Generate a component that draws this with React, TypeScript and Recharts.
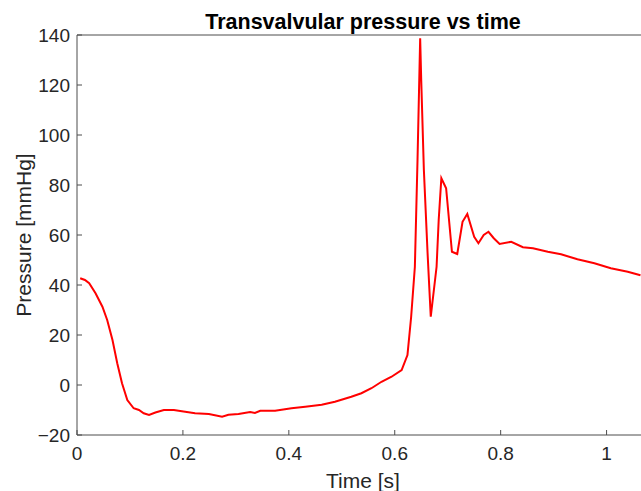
import { LineChart, Line, XAxis, YAxis, ReferenceLine } from "recharts";

const times = [
  0.006, 0.015, 0.023, 0.035, 0.048, 0.057, 0.067, 0.076, 0.085, 0.095, 0.107, 0.117, 0.126, 0.136,
  0.148, 0.164, 0.183, 0.198, 0.223, 0.249, 0.274, 0.286, 0.305, 0.327, 0.336, 0.346, 0.374, 0.405,
  0.431, 0.462, 0.487, 0.518, 0.537, 0.556, 0.575, 0.594, 0.613, 0.624, 0.631, 0.638, 0.643, 0.648,
  0.65, 0.655, 0.662, 0.668, 0.679, 0.683, 0.688, 0.697, 0.708, 0.718, 0.728, 0.737, 0.75, 0.758,
  0.768, 0.777, 0.787, 0.798, 0.82, 0.842, 0.861, 0.889, 0.914, 0.945, 0.977, 1.008, 1.04, 1.064,
];

const pressure = [
  42.7, 42, 40.7, 36.7, 31.3, 26, 18, 8.7, 0.7, -6, -9.3, -10, -11.3, -12,
  -11, -10, -10, -10.5, -11.3, -11.6, -12.7, -11.9, -11.6, -10.8, -11.2, -10.3, -10.3, -9.3,
  -8.7, -7.9, -6.7, -4.7, -3.3, -1.3, 1.3, 3.3, 6, 12, 27.3, 47.3, 90, 138.7,
  122, 86, 52.7, 27.3, 47.3, 66, 82.7, 78.7, 53.3, 52.4, 65.3, 68.4, 59.3, 56.7,
  60, 61.3, 58.7, 56.4, 57.3, 55.1, 54.7, 53.3, 52.3, 50.3, 48.7, 46.7, 45.3, 43.9,
];

const xTicks = [0, 0.2, 0.4, 0.6, 0.8, 1];
const yTicks = [-20, 0, 20, 40, 60, 80, 100, 120, 140];

const title = "Transvalvular pressure vs time";
const xLabel = "Time [s]";
const yLabel = "Pressure [mmHg]";

const data = times.map((t, i) => ({ t, p: pressure[i] }));

const font = "'Liberation Sans', Arial, Helvetica, sans-serif";
const axisColor = "#4d4d4d";
const textColor = "#262626";

export default function App() {
  return (
    <div style={{ position: "absolute", left: 0, top: 0, width: 641, height: 491, fontFamily: font }}>
      <div
        style={{
          position: "absolute",
          left: 77,
          width: 572,
          top: 7,
          textAlign: "center",
          fontSize: 21.5,
          fontWeight: "bold",
          color: "#000",
          lineHeight: "30px",
        }}
      >
        {title}
      </div>
      <LineChart
        width={641}
        height={491}
        data={data}
        margin={{ top: 35, right: 0, bottom: 0, left: 0 }}
      >
        <XAxis
          dataKey="t"
          type="number"
          domain={[0, 1.065]}
          ticks={xTicks}
          height={56}
          stroke={axisColor}
          tickSize={-5}
          tickMargin={17}
          tick={{ fill: textColor, fontSize: 19 }}
          label={({ viewBox }: any) => (
            <text
              x={363}
              y={488}
              textAnchor="middle"
              fill={textColor}
              fontSize={21}
            >
              {xLabel}
            </text>
          )}
        />
        <YAxis
          dataKey="p"
          type="number"
          domain={[-20, 140]}
          ticks={yTicks}
          width={77}
          stroke={axisColor}
          tickSize={-5}
          tickMargin={12}
          tick={{ fill: textColor, fontSize: 19 }}
          tickFormatter={(v: number) => String(v).replace("-", "\u2212")}
          label={({ viewBox }: any) => (
            <text
              x={31}
              y={viewBox.y + viewBox.height / 2}
              textAnchor="middle"
              fill={textColor}
              fontSize={21}
              transform={`rotate(-90, 31, ${viewBox.y + viewBox.height / 2})`}
            >
              {yLabel}
            </text>
          )}
        />
        <ReferenceLine y={140} stroke={axisColor} />
        <Line
          dataKey="p"
          type="linear"
          stroke="#ff0000"
          strokeWidth={2}
          dot={false}
          isAnimationActive={false}
        />
      </LineChart>
    </div>
  );
}
